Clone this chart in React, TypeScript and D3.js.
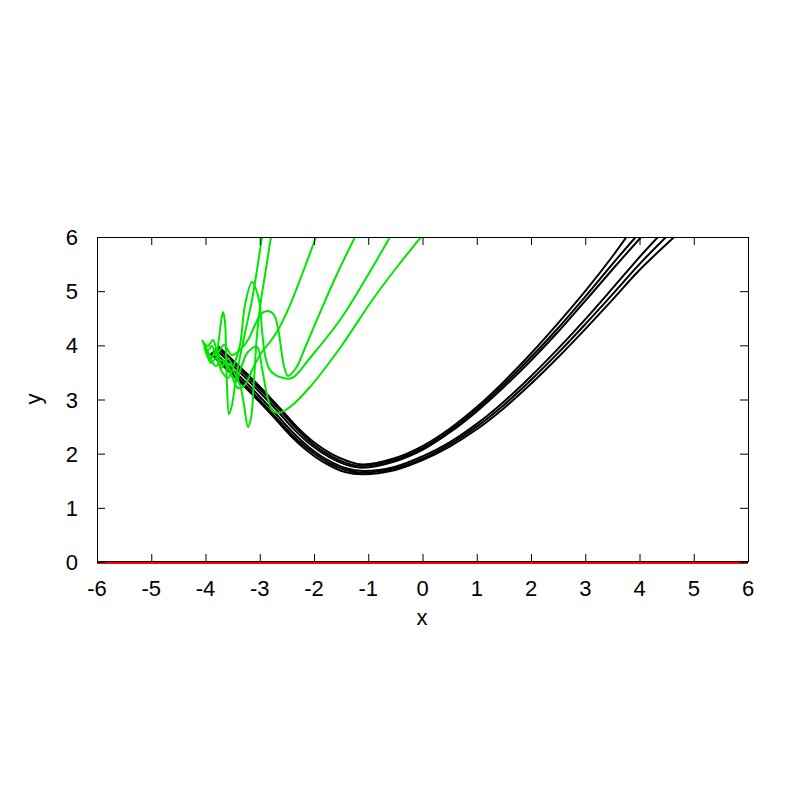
import React from "react";
import * as d3 from "d3";

type P = [number, number];

// Axis ticks
const xTicks = [-6, -5, -4, -3, -2, -1, 0, 1, 2, 3, 4, 5, 6];
const yTicks = [0, 1, 2, 3, 4, 5, 6];

// Black trajectories (escape down the valley)
const black1: P[] = [[-3.77,3.99],[-3.46,3.69],[-3.15,3.39],[-2.87,3.10],[-2.59,2.80],[-2.30,2.48],[-2.00,2.21],[-1.67,1.99],[-1.37,1.86],[-1.1,1.80],[-0.5,1.92],[0,2.14],[0.5,2.46],[1.0,2.86],[1.5,3.33],[2.0,3.85],[2.5,4.41],[3.0,5.0],[3.5,5.64],[3.76,6]];
const black2: P[] = [[-3.79,3.97],[-3.48,3.67],[-3.17,3.37],[-2.89,3.08],[-2.61,2.78],[-2.32,2.46],[-2.02,2.18],[-1.69,1.96],[-1.38,1.82],[-1.1,1.77],[-0.5,1.89],[0,2.10],[0.5,2.42],[1.0,2.82],[1.5,3.28],[2.0,3.78],[2.5,4.32],[3.0,4.90],[3.5,5.50],[3.93,6]];
const black3: P[] = [[-3.82,3.94],[-3.51,3.64],[-3.20,3.34],[-2.92,3.05],[-2.64,2.75],[-2.35,2.43],[-2.04,2.15],[-1.71,1.93],[-1.39,1.79],[-1.1,1.74],[-0.5,1.86],[0,2.07],[0.5,2.39],[1.0,2.78],[1.5,3.23],[2.0,3.72],[2.5,4.25],[3.0,4.82],[3.5,5.40],[4.03,6]];
const black4: P[] = [[-3.86,3.90],[-3.55,3.60],[-3.24,3.30],[-2.96,3.01],[-2.68,2.71],[-2.39,2.39],[-2.08,2.11],[-1.73,1.87],[-1.41,1.73],[-1.1,1.68],[-0.5,1.76],[0,1.95],[0.5,2.21],[1.0,2.55],[1.5,2.96],[2.0,3.43],[2.5,3.94],[3.0,4.48],[3.5,5.05],[4.0,5.63],[4.34,6]];
const black5: P[] = [[-3.89,3.87],[-3.58,3.57],[-3.27,3.27],[-2.99,2.98],[-2.71,2.68],[-2.42,2.36],[-2.10,2.08],[-1.75,1.84],[-1.42,1.70],[-1.1,1.65],[-0.5,1.73],[0,1.91],[0.5,2.17],[1.0,2.50],[1.5,2.90],[2.0,3.36],[2.5,3.86],[3.0,4.39],[3.5,4.94],[4.0,5.50],[4.49,6]];
const black6: P[] = [[-3.91,3.85],[-3.60,3.55],[-3.29,3.25],[-3.01,2.96],[-2.73,2.66],[-2.44,2.34],[-2.12,2.05],[-1.77,1.81],[-1.43,1.66],[-1.1,1.62],[-0.5,1.70],[0,1.88],[0.5,2.13],[1.0,2.45],[1.5,2.84],[2.0,3.29],[2.5,3.78],[3.0,4.30],[3.5,4.84],[4.0,5.39],[4.64,6]];

// Green trajectories (oscillate, then escape upward)
const green1: P[] = [[-4.046,4.061],[-3.954,3.914],[-3.880,3.987],[-3.806,3.803],[-3.751,4.135],[-3.714,4.431],[-3.677,4.615],[-3.641,4.431],[-3.622,3.914],[-3.604,3.268],[-3.567,2.732],[-3.512,2.898],[-3.456,3.268],[-3.401,3.600],[-3.272,4.227],[-3.143,4.837],[-3.051,5.390],[-2.959,6.0]];
const green2: P[] = [[-4.009,4.006],[-3.880,3.784],[-3.788,3.914],[-3.696,3.637],[-3.585,3.766],[-3.475,3.508],[-3.364,3.268],[-3.290,2.898],[-3.217,2.492],[-3.161,2.658],[-3.106,3.360],[-3.051,4.191],[-2.977,4.837],[-2.903,5.298],[-2.793,6.0]];
const green3: P[] = [[-4.028,3.969],[-3.917,3.729],[-3.825,3.877],[-3.714,3.581],[-3.622,3.692],[-3.512,3.434],[-3.401,3.212],[-3.272,3.268],[-3.124,3.581],[-2.959,3.877],[-2.811,4.061],[-2.664,4.283],[-2.442,4.744],[-2.203,5.354],[-1.963,6.0]];
const green4: P[] = [[-4.065,4.098],[-3.954,3.987],[-3.862,4.098],[-3.770,3.877],[-3.659,4.006],[-3.512,3.821],[-3.364,3.914],[-3.217,4.098],[-3.088,4.375],[-2.977,4.578],[-2.848,4.634],[-2.737,4.560],[-2.664,4.320],[-2.608,3.951],[-2.553,3.618],[-2.479,3.434],[-2.332,3.581],[-2.166,3.951],[-1.853,4.689],[-1.558,5.354],[-1.244,6.0]];
const green5: P[] = [[-3.991,3.914],[-3.899,3.674],[-3.806,3.766],[-3.696,3.508],[-3.585,3.397],[-3.475,3.637],[-3.364,4.006],[-3.272,4.744],[-3.143,5.169],[-3.014,4.837],[-2.959,4.283],[-2.903,3.821],[-2.811,3.544],[-2.627,3.415],[-2.406,3.397],[-2.074,3.766],[-1.521,4.467],[-1.060,5.206],[-0.599,6.0]];
const green6: P[] = [[-4.028,4.024],[-3.917,3.766],[-3.806,3.618],[-3.696,3.729],[-3.548,3.508],[-3.438,3.323],[-3.346,3.581],[-3.217,3.877],[-3.051,3.969],[-2.959,3.581],[-2.866,3.083],[-2.774,2.806],[-2.664,2.751],[-2.442,2.861],[-2.074,3.231],[-1.521,3.951],[-0.912,4.855],[-0.470,5.446],[-0.028,6.0]];

const blackSeries = [black1, black2, black3, black4, black5, black6];
const greenSeries = [green1, green2, green3, green4, green5, green6];
const baseLine: P[] = [[-6, 0], [6, 0]];

const W = 800, H = 800;
const M = { left: 97, right: 748, top: 237, bottom: 562 };

export default function App() {
  const x = d3.scaleLinear().domain([-6, 6]).range([M.left, M.right]);
  const y = d3.scaleLinear().domain([0, 6]).range([M.bottom, M.top]);
  const line = d3
    .line<P>()
    .x((d) => x(d[0]))
    .y((d) => y(d[1]))
    .curve(d3.curveCatmullRom.alpha(0.5));
  const straight = d3.line<P>().x((d) => x(d[0])).y((d) => y(d[1]));
  const font = "'Liberation Sans', Arial, sans-serif";
  const tick = 8;

  return (
    <svg
      width={W}
      height={H}
      style={{ position: "absolute", left: 0, top: 0, background: "#fff" }}
      fontFamily={font}
    >
      <rect x={0} y={0} width={W} height={H} fill="#fff" />
      <defs>
        <clipPath id="plot">
          <rect x={M.left} y={M.top} width={M.right - M.left} height={M.bottom - M.top} />
        </clipPath>
      </defs>
      <g clipPath="url(#plot)">
        {blackSeries.map((s, i) => (
          <path key={"b" + i} d={line(s) || ""} fill="none" stroke="#000" strokeWidth={2} />
        ))}
        {greenSeries.map((s, i) => (
          <path key={"g" + i} d={line(s) || ""} fill="none" stroke="#00e600" strokeWidth={2} />
        ))}
      </g>
      <path d={straight(baseLine) || ""} fill="none" stroke="#ff0000" strokeWidth={2} transform="translate(0,1)" />
      <rect
        x={M.left + 0.5}
        y={M.top + 0.5}
        width={M.right - M.left}
        height={M.bottom - M.top - 1}
        fill="none"
        stroke="#000"
        strokeWidth={1}
      />
      {xTicks.map((t) => (
        <g key={"xt" + t}>
          <line x1={x(t) + 0.5} x2={x(t) + 0.5} y1={M.bottom} y2={M.bottom - tick} stroke="#000" />
          <line x1={x(t) + 0.5} x2={x(t) + 0.5} y1={M.top} y2={M.top + tick} stroke="#000" />
          <text x={x(t)} y={596} fontSize={22} textAnchor="middle" fill="#000">
            {t}
          </text>
        </g>
      ))}
      {yTicks.map((t) => (
        <g key={"yt" + t}>
          <line x1={M.left} x2={M.left + tick} y1={y(t) + 0.5} y2={y(t) + 0.5} stroke="#000" />
          <line x1={M.right} x2={M.right - tick} y1={y(t) + 0.5} y2={y(t) + 0.5} stroke="#000" />
          <text x={78} y={y(t) + 8} fontSize={22} textAnchor="end" fill="#000">
            {t}
          </text>
        </g>
      ))}
      <text x={422} y={625} fontSize={22} textAnchor="middle" fill="#000">
        x
      </text>
      <text
        x={0}
        y={0}
        fontSize={22}
        textAnchor="middle"
        fill="#000"
        transform="translate(41,399) rotate(-90)"
      >
        y
      </text>
    </svg>
  );
}
